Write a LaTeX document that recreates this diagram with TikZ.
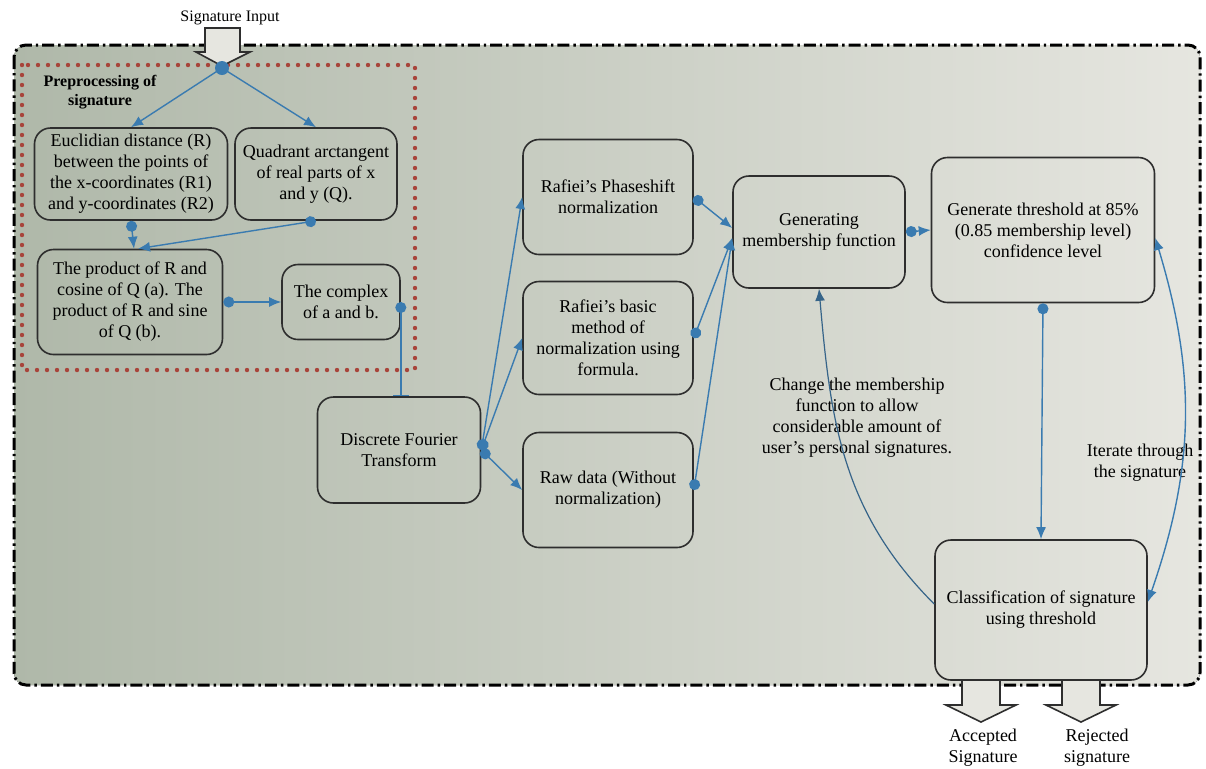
\documentclass[tikz,border=0pt]{standalone}
\usepackage{fontspec}
\setmainfont{Liberation Serif}
\usepackage{xcolor}
\usetikzlibrary{arrows.meta}
\definecolor{Ink}{HTML}{2E2E2E}
\definecolor{Wire}{HTML}{3A7BB0}
\definecolor{Moss}{HTML}{AFB8A9}
\definecolor{Mist}{HTML}{E6E6E0}
\definecolor{Brick}{HTML}{A8443A}

\tikzset{
  stage/.style={draw=Ink, line width=0.8pt, rounded corners=8pt, align=center, inner sep=2pt, font=\fontsize{9}{10.5}\selectfont},
  note/.style={align=center, inner sep=1pt, font=\fontsize{9}{10.5}\selectfont},
  link/.style={draw=Wire, line width=0.7pt, {Circle[length=5.5pt]}-{Latex[length=6pt,width=5pt]}},
  bigarrow/.style={draw=Ink, line width=0.8pt, fill=Mist}
}

\begin{document}
\begin{tikzpicture}[x=0.5pt, y=-0.5pt]
  \useasboundingbox (0,0) rectangle (1206,768);
  \fill[white] (0,0) rectangle (1206,768);

  \fill[left color=Moss, right color=Mist, rounded corners=6pt] (14,45) rectangle (1200,685);
  \draw[line width=1.5pt, dash pattern=on 6pt off 2pt on 1.2pt off 2pt, rounded corners=6pt] (14,45) rectangle (1200,685);
  \draw[Brick, line width=2.2pt, line cap=round, dash pattern=on 0pt off 5pt] (22,65) rectangle (415,370);

  \node[note, font=\fontsize{8}{9}\selectfont] (sigin) at (230,18) {Signature Input};
  \draw[bigarrow] (205,28) -- (240,28) -- (240,52) -- (250,52) -- (222,66) -- (196,52) -- (205,52) -- cycle;
  \coordinate (j0) at (222,68);

  \node[note, font=\bfseries\fontsize{8}{9.5}\selectfont] (prep) at (100,92) {Preprocessing of\\signature};

  \node[stage, minimum width=96.5pt, minimum height=46pt] (euc) at (131,174) {Euclidian distance (R)\\between the points of\\the x-coordinates (R1)\\and y-coordinates (R2)};
  \node[stage, minimum width=81pt, minimum height=46pt] (quad) at (316,174) {Quadrant arctangent\\of real parts of x\\and y (Q).};
  \node[stage, minimum width=92.5pt, minimum height=52.5pt] (prod) at (130,302) {The product of R and\\cosine of Q (a). The\\product of R and sine\\of Q (b).};
  \node[stage, minimum width=59pt, minimum height=37.5pt] (cplx) at (341,302) {The complex\\of a and b.};
  \node[stage, minimum width=81.5pt, minimum height=53pt] (dft) at (399,450) {Discrete Fourier\\Transform};

  \node[stage, minimum width=85pt, minimum height=57.5pt] (phase) at (608,197) {Rafiei's Phaseshift\\normalization};
  \node[stage, minimum width=85pt, minimum height=56.5pt] (basic) at (608,338) {Rafiei's basic\\method of\\normalization using\\formula.};
  \node[stage, minimum width=85pt, minimum height=57.5pt] (raw) at (608,490) {Raw data (Without\\normalization)};

  \node[stage, minimum width=86pt, minimum height=56pt] (memb) at (819,232) {Generating\\membership function};
  \node[stage, minimum width=111.5pt, minimum height=72.5pt] (thr) at (1043,230) {Generate threshold at 85\%\\(0.85 membership level)\\confidence level};
  \node[stage, minimum width=106pt, minimum height=70pt] (cls) at (1041,610) {Classification of signature\\using threshold};

  \node[note] (chg) at (857,418) {Change the membership\\function to allow\\considerable amount of\\user's personal signatures.};
  \node[note] (itr) at (1140,463) {Iterate through\\the signature};

  \draw[bigarrow] (962,680) -- (1000,680) -- (1000,705) -- (1016,705) -- (981,722) -- (946,705) -- (962,705) -- cycle;
  \draw[bigarrow] (1062,680) -- (1100,680) -- (1100,705) -- (1116,705) -- (1081,722) -- (1046,705) -- (1062,705) -- cycle;
  \node[note] (acc) at (983,748) {Accepted\\Signature};
  \node[note] (rej) at (1097,748) {Rejected\\signature};

  \fill[Wire] (j0) circle (3.5pt);
  \draw[link, {-Latex[length=6pt,width=5pt]}] (j0) -- (euc.north);
  \draw[link, {-Latex[length=6pt,width=5pt]}] (j0) -- (quad.north);
  \draw[link] (euc.south) -- ([xshift=2pt]prod.north);
  \draw[link] (quad.south) -- ([xshift=4pt]prod.north);
  \draw[link] (prod.east) -- (cplx.west);
  \draw[link, {Circle[length=5.5pt]}-{Bar[width=8pt]}] (cplx.east) -- (cplx.east |- dft.north);

  \draw[link] (dft.east) -- (phase.west);
  \draw[link] (dft.east) -- (basic.west);
  \draw[link] (dft.east) -- (raw.west);
  \draw[link] (phase.east) -- ([yshift=2pt]memb.west);
  \draw[link] (basic.east) -- ([yshift=-3pt]memb.west);
  \draw[link] (raw.east) -- ([yshift=-3pt]memb.west);
  \draw[link] (memb.east) -- (thr.west);
  \draw[link] (thr.south) -- (cls.north);

  \draw[draw=Wire, line width=0.7pt, {Latex[length=6pt,width=5pt]}-{Latex[length=6pt,width=5pt]}] ([yshift=-4pt]thr.east) to[bend left=18] ([yshift=4pt]cls.east);
  \draw[draw=Wire!70!Ink, line width=0.6pt, -{Latex[length=6pt,width=5pt]}] ([yshift=3pt]cls.west) to[out=135, in=-85] (memb.south);
\end{tikzpicture}
\end{document}
